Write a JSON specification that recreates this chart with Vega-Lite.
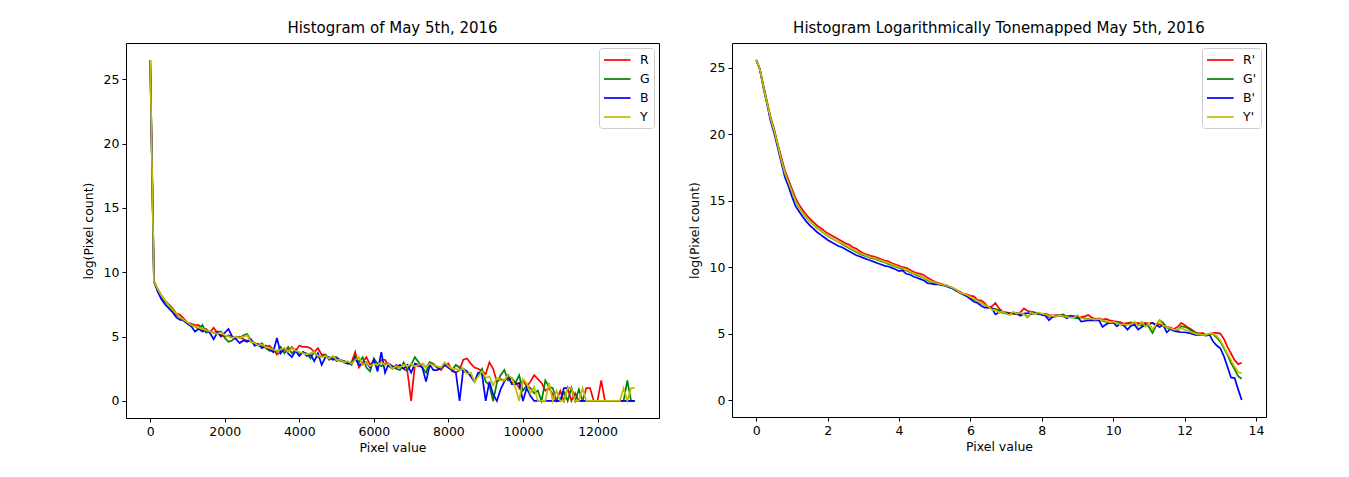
{
  "$schema": "https://vega.github.io/schema/vega-lite/v6.json",
  "background": "white",
  "padding": {"left": 81, "top": 20, "right": 5, "bottom": 5},
  "spacing": 73,
  "bounds": "flush",
  "datasets": {
    "left": [
      {"x":0,"R":26.5,"G":26.5,"B":26.5,"Y":26.5},
      {"x":100,"R":9.3,"G":9.3,"B":9.3,"Y":9.3},
      {"x":200,"R":8.7,"G":8.6,"B":8.5,"Y":8.7},
      {"x":300,"R":8.2,"G":8.1,"B":7.9,"Y":8.2},
      {"x":400,"R":7.8,"G":7.7,"B":7.5,"Y":7.8},
      {"x":500,"R":7.5,"G":7.4,"B":7.2,"Y":7.4},
      {"x":600,"R":7.2,"G":7.0,"B":6.9,"Y":7.1},
      {"x":700,"R":6.8,"G":6.7,"B":6.5,"Y":6.8},
      {"x":800,"R":6.7,"G":6.5,"B":6.3,"Y":6.5},
      {"x":900,"R":6.4,"G":6.2,"B":6.3,"Y":6.3},
      {"x":1000,"R":6.1,"G":6.0,"B":6.0,"Y":6.1},
      {"x":1100,"R":6.0,"G":5.9,"B":5.8,"Y":5.9},
      {"x":1200,"R":5.9,"G":5.8,"B":5.4,"Y":5.8},
      {"x":1300,"R":5.9,"G":5.6,"B":5.6,"Y":5.7},
      {"x":1400,"R":5.5,"G":5.9,"B":5.4,"Y":5.6},
      {"x":1500,"R":5.6,"G":5.3,"B":5.5,"Y":5.5},
      {"x":1600,"R":5.3,"G":5.4,"B":5.3,"Y":5.4},
      {"x":1700,"R":5.7,"G":5.3,"B":4.8,"Y":5.3},
      {"x":1800,"R":5.3,"G":5.4,"B":5.3,"Y":5.2},
      {"x":1900,"R":5.1,"G":5.4,"B":5.0,"Y":5.3},
      {"x":2000,"R":5.0,"G":4.9,"B":5.3,"Y":5.1},
      {"x":2100,"R":5.1,"G":4.6,"B":5.6,"Y":5.0},
      {"x":2200,"R":5.0,"G":4.7,"B":5.0,"Y":4.9},
      {"x":2300,"R":4.9,"G":5.0,"B":4.8,"Y":5.0},
      {"x":2400,"R":5.0,"G":4.9,"B":4.5,"Y":4.9},
      {"x":2500,"R":4.8,"G":5.1,"B":4.7,"Y":5.0},
      {"x":2600,"R":4.7,"G":5.2,"B":4.6,"Y":5.1},
      {"x":2700,"R":4.6,"G":4.7,"B":4.8,"Y":4.6},
      {"x":2800,"R":4.5,"G":4.5,"B":4.3,"Y":4.5},
      {"x":2900,"R":4.4,"G":4.3,"B":4.4,"Y":4.3},
      {"x":3000,"R":4.3,"G":4.5,"B":4.1,"Y":4.4},
      {"x":3100,"R":4.2,"G":4.1,"B":4.3,"Y":4.2},
      {"x":3200,"R":4.3,"G":3.9,"B":4.0,"Y":4.1},
      {"x":3300,"R":4.0,"G":4.0,"B":3.8,"Y":4.0},
      {"x":3400,"R":3.6,"G":3.8,"B":4.9,"Y":3.9},
      {"x":3500,"R":3.8,"G":4.2,"B":3.7,"Y":4.0},
      {"x":3600,"R":4.0,"G":3.7,"B":4.1,"Y":4.1},
      {"x":3700,"R":3.9,"G":4.2,"B":3.7,"Y":3.8},
      {"x":3800,"R":4.2,"G":3.7,"B":3.4,"Y":4.1},
      {"x":3900,"R":3.9,"G":4.0,"B":3.9,"Y":3.9},
      {"x":4000,"R":4.3,"G":3.6,"B":3.5,"Y":3.8},
      {"x":4100,"R":4.2,"G":3.8,"B":3.8,"Y":3.7},
      {"x":4200,"R":4.2,"G":3.7,"B":3.5,"Y":3.6},
      {"x":4300,"R":4.1,"G":3.3,"B":3.6,"Y":3.7},
      {"x":4400,"R":3.8,"G":3.8,"B":3.1,"Y":3.8},
      {"x":4500,"R":4.1,"G":3.4,"B":3.7,"Y":3.5},
      {"x":4600,"R":3.6,"G":3.5,"B":2.8,"Y":3.4},
      {"x":4700,"R":3.6,"G":3.6,"B":3.4,"Y":3.5},
      {"x":4800,"R":3.3,"G":3.2,"B":3.4,"Y":3.3},
      {"x":4900,"R":3.4,"G":3.4,"B":3.2,"Y":3.5},
      {"x":5000,"R":3.1,"G":3.4,"B":3.3,"Y":3.2},
      {"x":5100,"R":3.2,"G":3.1,"B":3.2,"Y":3.2},
      {"x":5200,"R":3.1,"G":3.1,"B":3.0,"Y":3.0},
      {"x":5300,"R":2.9,"G":3.0,"B":2.9,"Y":3.1},
      {"x":5400,"R":3.0,"G":2.8,"B":2.9,"Y":2.9},
      {"x":5500,"R":3.8,"G":3.5,"B":3.3,"Y":3.2},
      {"x":5600,"R":2.6,"G":3.0,"B":2.8,"Y":3.4},
      {"x":5700,"R":3.0,"G":3.4,"B":2.9,"Y":2.8},
      {"x":5800,"R":3.4,"G":2.6,"B":3.0,"Y":3.0},
      {"x":5900,"R":2.8,"G":2.3,"B":2.6,"Y":2.7},
      {"x":6000,"R":3.1,"G":3.3,"B":3.2,"Y":2.9},
      {"x":6100,"R":2.6,"G":2.9,"B":2.3,"Y":2.8},
      {"x":6200,"R":3.2,"G":2.7,"B":3.8,"Y":3.0},
      {"x":6300,"R":3.2,"G":2.9,"B":2.2,"Y":2.8},
      {"x":6400,"R":2.7,"G":2.8,"B":2.9,"Y":2.9},
      {"x":6500,"R":2.5,"G":2.6,"B":2.7,"Y":2.5},
      {"x":6600,"R":2.8,"G":2.5,"B":2.6,"Y":2.7},
      {"x":6700,"R":2.6,"G":2.4,"B":2.8,"Y":2.6},
      {"x":6800,"R":2.5,"G":3.0,"B":2.5,"Y":2.8},
      {"x":6900,"R":2.3,"G":2.4,"B":2.8,"Y":2.7},
      {"x":7000,"R":0.0,"G":2.8,"B":2.2,"Y":2.9},
      {"x":7100,"R":2.8,"G":3.4,"B":2.9,"Y":2.7},
      {"x":7200,"R":2.7,"G":3.0,"B":2.8,"Y":2.8},
      {"x":7300,"R":2.9,"G":2.6,"B":2.6,"Y":2.9},
      {"x":7400,"R":2.6,"G":2.2,"B":1.5,"Y":2.6},
      {"x":7500,"R":3.0,"G":3.0,"B":2.8,"Y":2.9},
      {"x":7600,"R":2.9,"G":2.8,"B":2.4,"Y":2.8},
      {"x":7700,"R":2.6,"G":2.6,"B":2.4,"Y":2.7},
      {"x":7800,"R":2.4,"G":2.5,"B":2.6,"Y":2.6},
      {"x":7900,"R":2.8,"G":2.9,"B":2.8,"Y":3.0},
      {"x":8000,"R":2.9,"G":2.6,"B":2.6,"Y":2.7},
      {"x":8100,"R":2.3,"G":2.4,"B":2.4,"Y":2.5},
      {"x":8200,"R":2.2,"G":2.8,"B":2.2,"Y":2.5},
      {"x":8300,"R":2.4,"G":2.6,"B":0.0,"Y":2.4},
      {"x":8400,"R":3.2,"G":2.3,"B":2.5,"Y":2.5},
      {"x":8500,"R":3.3,"G":2.2,"B":2.3,"Y":2.1},
      {"x":8600,"R":2.9,"G":2.0,"B":1.9,"Y":2.2},
      {"x":8700,"R":2.6,"G":1.5,"B":1.5,"Y":1.5},
      {"x":8800,"R":2.5,"G":2.0,"B":2.2,"Y":1.9},
      {"x":8900,"R":2.3,"G":2.5,"B":2.1,"Y":2.3},
      {"x":9000,"R":2.1,"G":1.5,"B":0.0,"Y":1.8},
      {"x":9100,"R":3.0,"G":1.2,"B":1.5,"Y":1.9},
      {"x":9200,"R":2.5,"G":0.0,"B":0.5,"Y":1.2},
      {"x":9300,"R":1.5,"G":1.4,"B":0.0,"Y":1.8},
      {"x":9400,"R":1.7,"G":2.0,"B":0.9,"Y":1.6},
      {"x":9500,"R":1.6,"G":2.4,"B":1.5,"Y":1.6},
      {"x":9600,"R":1.8,"G":1.6,"B":2.0,"Y":2.0},
      {"x":9700,"R":1.4,"G":1.8,"B":1.3,"Y":1.8},
      {"x":9800,"R":1.5,"G":1.4,"B":1.3,"Y":1.0},
      {"x":9900,"R":1.0,"G":2.0,"B":1.4,"Y":0.0},
      {"x":10000,"R":1.6,"G":0.8,"B":0.0,"Y":1.7},
      {"x":10100,"R":1.1,"G":1.2,"B":1.0,"Y":1.4},
      {"x":10200,"R":1.5,"G":1.0,"B":0.4,"Y":0.6},
      {"x":10300,"R":2.0,"G":0.6,"B":0.0,"Y":1.1},
      {"x":10400,"R":1.7,"G":0.8,"B":0.0,"Y":0.0},
      {"x":10500,"R":1.4,"G":0.0,"B":0.0,"Y":0.0},
      {"x":10600,"R":0.8,"G":1.6,"B":0.0,"Y":0.0},
      {"x":10700,"R":1.0,"G":1.1,"B":0.0,"Y":1.4},
      {"x":10800,"R":0.5,"G":1.0,"B":0.0,"Y":0.0},
      {"x":10900,"R":0.0,"G":0.0,"B":0.0,"Y":0.8},
      {"x":11000,"R":0.8,"G":0.0,"B":0.0,"Y":0.0},
      {"x":11100,"R":0.0,"G":0.7,"B":1.0,"Y":0.0},
      {"x":11200,"R":1.0,"G":0.0,"B":1.0,"Y":1.0},
      {"x":11300,"R":0.0,"G":1.0,"B":1.0,"Y":1.0},
      {"x":11400,"R":0.6,"G":0.0,"B":0.0,"Y":0.0},
      {"x":11500,"R":0.0,"G":0.9,"B":0.0,"Y":0.0},
      {"x":11600,"R":0.0,"G":0.0,"B":0.0,"Y":1.0},
      {"x":11700,"R":1.0,"G":0.0,"B":0.0,"Y":0.0},
      {"x":11800,"R":1.0,"G":0.0,"B":0.0,"Y":0.0},
      {"x":11900,"R":0.0,"G":0.0,"B":0.0,"Y":0.0},
      {"x":12000,"R":0.0,"G":0.0,"B":0.0,"Y":0.0},
      {"x":12100,"R":1.6,"G":0.0,"B":0.0,"Y":0.0},
      {"x":12200,"R":0.0,"G":0.0,"B":0.0,"Y":0.0},
      {"x":12300,"R":0.0,"G":0.0,"B":0.0,"Y":0.0},
      {"x":12400,"R":0.0,"G":0.0,"B":0.0,"Y":0.0},
      {"x":12500,"R":0.0,"G":0.0,"B":0.0,"Y":0.0},
      {"x":12600,"R":0.0,"G":0.0,"B":0.0,"Y":0.0},
      {"x":12700,"R":0.0,"G":0.0,"B":0.0,"Y":1.0},
      {"x":12800,"R":0.0,"G":1.6,"B":0.0,"Y":0.0},
      {"x":12900,"R":0.0,"G":0.0,"B":0.0,"Y":1.0},
      {"x":13000,"R":0.0,"G":0.0,"B":0.0,"Y":1.0}
    ],
    "right": [
      {"x":0.0,"R":25.6,"G":25.6,"B":25.6,"Y":25.6},
      {"x":0.1,"R":24.9,"G":24.9,"B":24.9,"Y":24.9},
      {"x":0.2,"R":23.7,"G":23.6,"B":23.5,"Y":23.6},
      {"x":0.3,"R":22.5,"G":22.4,"B":22.3,"Y":22.4},
      {"x":0.4,"R":21.3,"G":21.2,"B":21.0,"Y":21.2},
      {"x":0.5,"R":20.4,"G":20.3,"B":20.1,"Y":20.3},
      {"x":0.6,"R":19.3,"G":19.2,"B":19.0,"Y":19.2},
      {"x":0.7,"R":18.3,"G":18.1,"B":17.9,"Y":18.1},
      {"x":0.8,"R":17.3,"G":17.1,"B":16.8,"Y":17.1},
      {"x":0.9,"R":16.6,"G":16.4,"B":16.1,"Y":16.4},
      {"x":1.0,"R":15.9,"G":15.7,"B":15.3,"Y":15.7},
      {"x":1.1,"R":15.2,"G":15.0,"B":14.6,"Y":15.0},
      {"x":1.2,"R":14.7,"G":14.5,"B":14.2,"Y":14.5},
      {"x":1.3,"R":14.3,"G":14.1,"B":13.8,"Y":14.1},
      {"x":1.4,"R":13.95,"G":13.75,"B":13.45,"Y":13.75},
      {"x":1.5,"R":13.65,"G":13.45,"B":13.15,"Y":13.45},
      {"x":1.6,"R":13.4,"G":13.2,"B":12.9,"Y":13.2},
      {"x":1.7,"R":13.15,"G":12.95,"B":12.65,"Y":12.95},
      {"x":1.8,"R":12.95,"G":12.75,"B":12.45,"Y":12.75},
      {"x":1.9,"R":12.75,"G":12.55,"B":12.25,"Y":12.55},
      {"x":2.0,"R":12.55,"G":12.35,"B":12.05,"Y":12.35},
      {"x":2.1,"R":12.4,"G":12.2,"B":11.9,"Y":12.2},
      {"x":2.2,"R":12.25,"G":12.05,"B":11.75,"Y":12.05},
      {"x":2.3,"R":12.1,"G":11.9,"B":11.6,"Y":11.9},
      {"x":2.4,"R":11.95,"G":11.75,"B":11.5,"Y":11.8},
      {"x":2.5,"R":11.8,"G":11.6,"B":11.35,"Y":11.65},
      {"x":2.6,"R":11.7,"G":11.45,"B":11.2,"Y":11.5},
      {"x":2.7,"R":11.5,"G":11.3,"B":11.05,"Y":11.35},
      {"x":2.8,"R":11.4,"G":11.15,"B":10.9,"Y":11.2},
      {"x":2.9,"R":11.2,"G":11.0,"B":10.8,"Y":11.05},
      {"x":3.0,"R":11.05,"G":10.9,"B":10.7,"Y":10.95},
      {"x":3.1,"R":10.95,"G":10.8,"B":10.6,"Y":10.85},
      {"x":3.2,"R":10.85,"G":10.7,"B":10.5,"Y":10.75},
      {"x":3.3,"R":10.8,"G":10.65,"B":10.4,"Y":10.7},
      {"x":3.4,"R":10.7,"G":10.55,"B":10.3,"Y":10.6},
      {"x":3.5,"R":10.6,"G":10.45,"B":10.2,"Y":10.5},
      {"x":3.6,"R":10.5,"G":10.35,"B":10.1,"Y":10.4},
      {"x":3.7,"R":10.45,"G":10.25,"B":10.05,"Y":10.3},
      {"x":3.8,"R":10.3,"G":10.15,"B":9.95,"Y":10.2},
      {"x":3.9,"R":10.2,"G":10.05,"B":9.85,"Y":10.1},
      {"x":4.0,"R":10.1,"G":9.95,"B":9.7,"Y":10.0},
      {"x":4.1,"R":10.0,"G":9.85,"B":9.75,"Y":9.9},
      {"x":4.2,"R":9.95,"G":9.75,"B":9.5,"Y":9.8},
      {"x":4.3,"R":9.8,"G":9.65,"B":9.45,"Y":9.7},
      {"x":4.4,"R":9.65,"G":9.5,"B":9.3,"Y":9.55},
      {"x":4.5,"R":9.55,"G":9.4,"B":9.2,"Y":9.45},
      {"x":4.6,"R":9.5,"G":9.3,"B":9.1,"Y":9.35},
      {"x":4.7,"R":9.4,"G":9.2,"B":9.0,"Y":9.2},
      {"x":4.8,"R":9.2,"G":9.0,"B":8.8,"Y":9.05},
      {"x":4.9,"R":9.05,"G":8.9,"B":8.75,"Y":8.95},
      {"x":5.0,"R":8.9,"G":8.8,"B":8.7,"Y":8.85},
      {"x":5.1,"R":8.8,"G":8.75,"B":8.7,"Y":8.75},
      {"x":5.2,"R":8.72,"G":8.7,"B":8.65,"Y":8.7},
      {"x":5.3,"R":8.65,"G":8.6,"B":8.6,"Y":8.65},
      {"x":5.4,"R":8.55,"G":8.5,"B":8.5,"Y":8.55},
      {"x":5.5,"R":8.45,"G":8.4,"B":8.4,"Y":8.45},
      {"x":5.6,"R":8.3,"G":8.25,"B":8.2,"Y":8.3},
      {"x":5.7,"R":8.15,"G":8.05,"B":8.1,"Y":8.1},
      {"x":5.8,"R":8.0,"G":7.95,"B":7.95,"Y":8.0},
      {"x":5.9,"R":7.95,"G":7.85,"B":7.8,"Y":7.9},
      {"x":6.0,"R":7.85,"G":7.7,"B":7.6,"Y":7.75},
      {"x":6.1,"R":7.8,"G":7.55,"B":7.4,"Y":7.6},
      {"x":6.2,"R":7.5,"G":7.45,"B":7.3,"Y":7.45},
      {"x":6.3,"R":7.5,"G":7.3,"B":7.1,"Y":7.3},
      {"x":6.4,"R":7.3,"G":7.15,"B":6.95,"Y":7.15},
      {"x":6.5,"R":6.95,"G":7.0,"B":6.95,"Y":7.05},
      {"x":6.6,"R":7.05,"G":6.9,"B":6.9,"Y":6.8},
      {"x":6.7,"R":7.3,"G":6.85,"B":6.45,"Y":6.75},
      {"x":6.8,"R":6.9,"G":6.75,"B":6.6,"Y":6.6},
      {"x":6.9,"R":6.65,"G":6.6,"B":6.6,"Y":6.65},
      {"x":7.0,"R":6.6,"G":6.55,"B":6.5,"Y":6.5},
      {"x":7.1,"R":6.55,"G":6.5,"B":6.5,"Y":6.4},
      {"x":7.2,"R":6.5,"G":6.5,"B":6.55,"Y":6.65},
      {"x":7.3,"R":6.45,"G":6.55,"B":6.5,"Y":6.5},
      {"x":7.4,"R":6.6,"G":6.45,"B":6.35,"Y":6.55},
      {"x":7.5,"R":6.9,"G":6.5,"B":6.5,"Y":6.45},
      {"x":7.6,"R":6.7,"G":6.25,"B":6.55,"Y":6.2},
      {"x":7.7,"R":6.65,"G":6.5,"B":6.5,"Y":6.6},
      {"x":7.8,"R":6.6,"G":6.55,"B":6.5,"Y":6.45},
      {"x":7.9,"R":6.5,"G":6.45,"B":6.55,"Y":6.6},
      {"x":8.0,"R":6.45,"G":6.5,"B":6.4,"Y":6.5},
      {"x":8.1,"R":6.5,"G":6.4,"B":6.35,"Y":6.45},
      {"x":8.2,"R":6.4,"G":6.25,"B":6.0,"Y":6.3},
      {"x":8.3,"R":6.35,"G":6.3,"B":6.25,"Y":6.35},
      {"x":8.4,"R":6.4,"G":6.35,"B":6.3,"Y":6.3},
      {"x":8.5,"R":6.35,"G":6.4,"B":6.4,"Y":6.4},
      {"x":8.6,"R":6.3,"G":6.45,"B":6.3,"Y":6.3},
      {"x":8.7,"R":6.3,"G":6.25,"B":6.15,"Y":6.25},
      {"x":8.8,"R":6.35,"G":6.35,"B":6.3,"Y":6.2},
      {"x":8.9,"R":6.3,"G":6.2,"B":6.3,"Y":6.2},
      {"x":9.0,"R":6.2,"G":6.15,"B":6.3,"Y":6.4},
      {"x":9.1,"R":6.25,"G":6.2,"B":5.9,"Y":6.15},
      {"x":9.2,"R":6.3,"G":6.15,"B":5.95,"Y":6.1},
      {"x":9.3,"R":6.4,"G":6.1,"B":6.0,"Y":6.1},
      {"x":9.4,"R":6.2,"G":6.05,"B":6.0,"Y":6.1},
      {"x":9.5,"R":6.1,"G":6.0,"B":6.0,"Y":6.05},
      {"x":9.6,"R":6.15,"G":6.1,"B":6.0,"Y":6.1},
      {"x":9.7,"R":6.05,"G":5.95,"B":5.5,"Y":6.0},
      {"x":9.8,"R":6.1,"G":5.9,"B":5.7,"Y":5.95},
      {"x":9.9,"R":6.0,"G":5.8,"B":5.8,"Y":5.85},
      {"x":10.0,"R":5.95,"G":5.8,"B":5.85,"Y":5.9},
      {"x":10.1,"R":5.9,"G":5.85,"B":5.55,"Y":5.8},
      {"x":10.2,"R":5.85,"G":5.7,"B":5.75,"Y":5.7},
      {"x":10.3,"R":5.75,"G":5.6,"B":5.6,"Y":5.7},
      {"x":10.4,"R":5.8,"G":5.7,"B":5.3,"Y":5.65},
      {"x":10.5,"R":5.85,"G":5.8,"B":5.6,"Y":5.7},
      {"x":10.6,"R":5.75,"G":5.75,"B":5.65,"Y":5.9},
      {"x":10.7,"R":5.8,"G":5.7,"B":5.3,"Y":5.55},
      {"x":10.8,"R":5.75,"G":5.6,"B":5.5,"Y":5.9},
      {"x":10.9,"R":5.8,"G":5.75,"B":5.65,"Y":5.5},
      {"x":11.0,"R":5.75,"G":5.5,"B":5.7,"Y":5.8},
      {"x":11.1,"R":5.8,"G":5.05,"B":5.8,"Y":5.3},
      {"x":11.2,"R":5.65,"G":5.6,"B":5.65,"Y":5.7},
      {"x":11.3,"R":5.7,"G":6.0,"B":5.5,"Y":6.0},
      {"x":11.4,"R":5.6,"G":5.8,"B":5.65,"Y":5.6},
      {"x":11.5,"R":5.5,"G":5.45,"B":5.1,"Y":5.5},
      {"x":11.6,"R":5.45,"G":5.35,"B":5.35,"Y":5.4},
      {"x":11.7,"R":5.35,"G":5.25,"B":5.2,"Y":5.3},
      {"x":11.8,"R":5.5,"G":5.2,"B":5.15,"Y":5.3},
      {"x":11.9,"R":5.8,"G":5.55,"B":5.1,"Y":5.4},
      {"x":12.0,"R":5.65,"G":5.5,"B":5.1,"Y":5.3},
      {"x":12.1,"R":5.45,"G":5.4,"B":5.05,"Y":5.2},
      {"x":12.2,"R":5.3,"G":5.2,"B":5.0,"Y":5.1},
      {"x":12.3,"R":5.1,"G":5.05,"B":4.9,"Y":5.0},
      {"x":12.4,"R":5.0,"G":5.0,"B":4.9,"Y":4.95},
      {"x":12.5,"R":5.05,"G":4.95,"B":4.9,"Y":4.9},
      {"x":12.6,"R":4.9,"G":4.9,"B":4.85,"Y":4.9},
      {"x":12.7,"R":4.95,"G":5.0,"B":4.9,"Y":5.0},
      {"x":12.8,"R":5.05,"G":4.95,"B":4.4,"Y":5.0},
      {"x":12.9,"R":5.05,"G":4.7,"B":4.1,"Y":4.8},
      {"x":13.0,"R":5.0,"G":4.4,"B":3.9,"Y":4.5},
      {"x":13.1,"R":4.6,"G":3.9,"B":3.3,"Y":4.0},
      {"x":13.2,"R":4.0,"G":3.4,"B":2.5,"Y":3.5},
      {"x":13.3,"R":3.5,"G":2.8,"B":1.7,"Y":3.0},
      {"x":13.4,"R":3.0,"G":2.3,"B":1.65,"Y":2.5},
      {"x":13.5,"R":2.7,"G":1.8,"B":0.8,"Y":2.1},
      {"x":13.6,"R":2.8,"G":1.6,"B":0.0,"Y":2.0}
    ]
  },
  "hconcat": [
    {
      "width": 533,
      "height": 375,
      "title": {"text": "Histogram of May 5th, 2016"},
      "data": {"name": "left"},
      "transform": [{"fold": ["R", "G", "B", "Y"], "as": ["ch", "v"]}],
      "mark": {"type": "line", "strokeWidth": 1.7, "clip": true},
      "encoding": {
        "x": {"field": "x", "type": "quantitative", "title": "Pixel value",
              "scale": {"domain": [-650, 13650], "nice": false, "zero": false},
              "axis": {"values": [0, 2000, 4000, 6000, 8000, 10000, 12000], "format": "d"}},
        "y": {"field": "v", "type": "quantitative", "title": "log(Pixel count)",
              "scale": {"domain": [-1.325, 27.825], "nice": false, "zero": false},
              "axis": {"values": [0, 5, 10, 15, 20, 25]}},
        "color": {"field": "ch", "type": "nominal", "title": null,
                  "scale": {"domain": ["R", "G", "B", "Y"], "range": ["#ff0000", "#008000", "#0000ff", "#bfbf00"]},
                  "legend": {"orient": "top-right"}}
      }
    },
    {
      "width": 534,
      "height": 374,
      "title": {"text": "Histogram Logarithmically Tonemapped May 5th, 2016"},
      "data": {"name": "right"},
      "transform": [{"fold": ["R", "G", "B", "Y"], "as": ["ch", "v"]}],
      "mark": {"type": "line", "strokeWidth": 1.7, "clip": true},
      "encoding": {
        "x": {"field": "x", "type": "quantitative", "title": "Pixel value",
              "scale": {"domain": [-0.68, 14.28], "nice": false, "zero": false},
              "axis": {"values": [0, 2, 4, 6, 8, 10, 12, 14]}},
        "y": {"field": "v", "type": "quantitative", "title": "log(Pixel count)",
              "scale": {"domain": [-1.28, 26.88], "nice": false, "zero": false},
              "axis": {"values": [0, 5, 10, 15, 20, 25]}},
        "color": {"field": "ch", "type": "nominal", "title": null,
                  "scale": {"domain": ["R", "G", "B", "Y"], "range": ["#ff0000", "#008000", "#0000ff", "#bfbf00"]},
                  "legend": {"orient": "top-right", "labelExpr": "datum.label + \"'\""}}
      }
    }
  ],
  "resolve": {"scale": {"color": "independent"}, "legend": {"color": "independent"}},
  "config": {
    "font": "DejaVu Sans",
    "view": {"stroke": "black", "strokeWidth": 1},
    "title": {"font": "DejaVu Sans", "fontSize": 15, "fontWeight": "normal", "color": "black", "frame": "group", "anchor": "middle", "offset": 7},
    "axis": {
      "domain": false, "grid": false,
      "tickColor": "black", "tickSize": 4, "tickWidth": 1,
      "labelFont": "DejaVu Sans", "labelFontSize": 12.5, "labelColor": "black", "labelPadding": 3,
      "titleFont": "DejaVu Sans", "titleFontSize": 12.5, "titleColor": "black", "titleFontWeight": "normal"
    },
    "axisX": {"titlePadding": 4, "labelFlush": false},
    "axisY": {"titlePadding": 8, "labelFlush": false},
    "legend": {
      "offset": 5, "padding": 4, "fillColor": "white", "strokeColor": "#cccccc", "cornerRadius": 3,
      "symbolType": "M-1,0H2.8", "symbolSize": 196, "symbolStrokeWidth": 1.7,
      "labelFont": "DejaVu Sans", "labelFontSize": 12.5, "labelColor": "black", "labelOffset": 21,
      "rowPadding": 4
    }
  }
}
